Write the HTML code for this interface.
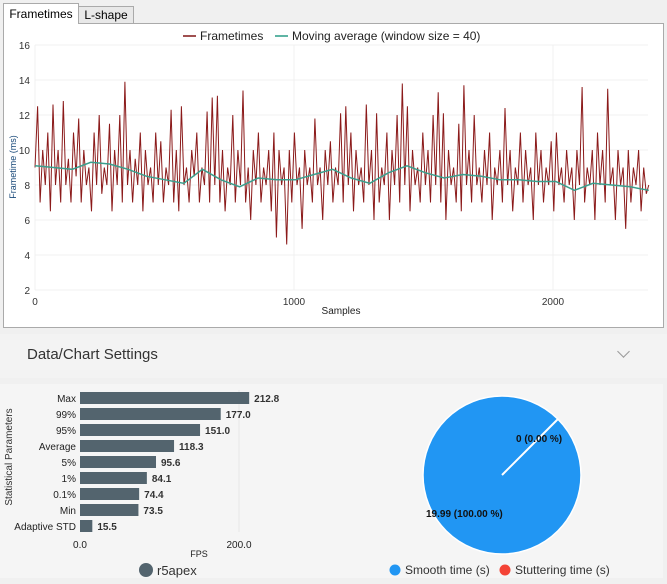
<!DOCTYPE html>
<html><head><meta charset="utf-8"><style>
body{margin:0;width:667px;height:584px;background:#f0f0f0;font-family:"Liberation Sans",sans-serif;overflow:hidden;position:relative}
.abs{position:absolute}
</style></head><body>
<div class="abs" style="left:3px;top:3px;width:74px;height:20px;background:#fff;border:1px solid #aaa;border-bottom:none;font-size:12px;line-height:20px;text-align:center;white-space:nowrap;z-index:2">Frametimes</div>
<div class="abs" style="left:78px;top:6px;width:54px;height:17px;background:#e8e8e8;border:1px solid #aaa;font-size:12px;line-height:17px;text-align:center;white-space:nowrap">L-shape</div>
<div class="abs" style="left:3px;top:23px;width:659px;height:303px;background:#fff;border:1px solid #aaa"></div>
<svg class="abs" style="left:0;top:0" width="667" height="584" id="main"></svg>
<div class="abs" style="left:0;top:334px;width:667px;height:44px;background:#f3f3f3"></div>
<div class="abs" style="left:27px;top:346px;font-size:15px;color:#333">Data/Chart Settings</div>
<div class="abs" style="left:619px;top:347px;width:8px;height:8px;border-right:1.5px solid #999;border-bottom:1.5px solid #999;transform:rotate(45deg)"></div>
<div class="abs" style="left:0;top:384px;width:663px;height:194px;background:#f5f5f5"></div>
<svg class="abs" style="left:0;top:0" width="667" height="584" id="bottom"></svg>
<script>
const NS="http://www.w3.org/2000/svg";
function mk(p,t,a){const e=document.createElementNS(NS,t);for(const k in a)e.setAttribute(k,a[k]);p.appendChild(e);return e;}
const frametimes=[9,12.5,7,10,8,11,6.5,12.6,8,10,7,12.8,8,9.5,7,11,8.5,11.8,7,10,8,9,6.5,11,8,12,7.5,9,8,11.5,6.5,10,8,12,7,13.9,8,10,7,9.5,8,11,6.5,10,8,9,7,11,8,10.5,7,9,8,12.3,7,10,6.5,12.5,8,9,7,10,8.5,11,7,9,8,12.2,7,13,8,13.1,7,10,6.5,9,8,12,7,10,8,13.4,7,9,6,10,8,11,7,9,8,10,6.5,11,5,10,8,9,4.6,10,7,11,8,9,5.5,10,8,9,7,11.8,8,9,6,10,8,10.5,7,9,8,12.1,7,12.5,8,11,6.5,10,8,9,7,12.6,8,10,6,12.1,7,9,8,11,6,10,8,12,7,13.8,8,12.5,6.5,10,8,9,7,11,8,10,7,12,8,13.3,7,12.1,6,10,8,9,7,11.5,6.5,13.7,8,10,7,12,8,9,7,10,8,11,6,9,8,10,7,12.4,8,10,6.5,9,8,11,7,10,8,9,6,11,8,10,7,9,8,10.5,6.5,11,8,9,7,10,8,9,6,10,8,13.6,7,9,8,10,6,11,8,10,7,13.5,8,9,6,10,8,9,5.5,10,7,9,8,10,6.5,9,7.5,8];
const movingAvg=[9.1,9,8.9,9.3,9.2,8.9,8.5,8.3,8.1,8.9,8.3,7.9,8.4,8.3,8.3,8.6,8.9,8.4,8.1,8.7,9.1,8.7,8.4,8.6,8.5,8.3,8.3,8.2,8.2,7.7,8.1,8,7.9,7.7];
const xTicks=[0,1000,2000];const yTicks=[2,4,6,8,10,12,14,16];
const nSamples=2370;
const sx=v=>35+v*0.259, sy=v=>290-(v-2)*17.5;
const g=document.getElementById('main');
yTicks.forEach(t=>{mk(g,'line',{x1:35,x2:648,y1:sy(t),y2:sy(t),stroke:'#f0f0f0'});const tx=mk(g,'text',{x:30,y:sy(t)+4,'font-size':10,'text-anchor':'end',fill:'#333'});tx.textContent=t;});
xTicks.forEach(t=>{mk(g,'line',{x1:sx(t),x2:sx(t),y1:45,y2:290,stroke:'#f0f0f0'});const tx=mk(g,'text',{x:sx(t),y:305,'font-size':10,'text-anchor':'middle',fill:'#333'});tx.textContent=t;});
let p1=frametimes.map((v,i)=>sx(i*nSamples/(frametimes.length-1)).toFixed(1)+','+sy(v).toFixed(1)).join(' ');
const ft=mk(g,'polyline',{points:p1,fill:'none',stroke:'#8b1a1a','stroke-width':1});


let p2=movingAvg.map((v,i)=>sx(i*nSamples/(movingAvg.length-1)).toFixed(1)+','+sy(v).toFixed(1)).join(' ');
const ma=mk(g,'polyline',{points:p2,fill:'none',stroke:'#3a9e8c','stroke-width':1.5});


const xt=mk(g,'text',{x:341,y:314,'font-size':10,'text-anchor':'middle',fill:'#222'});xt.textContent='Samples';


const yt=mk(g,'text',{x:0,y:0,'font-size':9,'text-anchor':'middle',fill:'#1a4a7a',transform:'translate(16,167) rotate(-90)'});yt.textContent='Frametime (ms)';


mk(g,'line',{x1:183,x2:196,y1:36,y2:36,stroke:'#a05050','stroke-width':2});
const l1=mk(g,'text',{x:200,y:40,'font-size':12,fill:'#222'});l1.textContent='Frametimes';


mk(g,'line',{x1:275,x2:288,y1:36,y2:36,stroke:'#5fb5a5','stroke-width':2});
const l2=mk(g,'text',{x:292,y:40,'font-size':12,fill:'#222'});l2.textContent='Moving average (window size = 40)';



const statLabels=['Max','99%','95%','Average','5%','1%','0.1%','Min','Adaptive STD'];
const statValues=[212.8,177.0,151.0,118.3,95.6,84.1,74.4,73.5,15.5];
const b=document.getElementById('bottom');
const bx=v=>80+v*0.795;
mk(b,'line',{x1:bx(200),x2:bx(200),y1:390,y2:532,stroke:'#e6e6e6'});
statLabels.forEach((l,i)=>{const y=392+i*16;
 const r=mk(b,'rect',{x:80,y:y,width:bx(statValues[i])-80,height:12,fill:'#53646e'});
 
 
 const t=mk(b,'text',{x:76,y:y+10,'font-size':10,'text-anchor':'end',fill:'#222'});t.textContent=l;
 
 
 const v=mk(b,'text',{x:bx(statValues[i])+5,y:y+10,'font-size':10,'font-weight':'bold',fill:'#333'});v.textContent=statValues[i].toFixed(1);
 
 });
[0,200].forEach(t=>{const tx=mk(b,'text',{x:bx(t),y:548,'font-size':10,'text-anchor':'middle',fill:'#222'});tx.textContent=t.toFixed(1);
 
 });
const fps=mk(b,'text',{x:199,y:557,'font-size':9,'text-anchor':'middle',fill:'#222'});fps.textContent='FPS';


const sp=mk(b,'text',{x:0,y:0,'font-size':10,'text-anchor':'middle',fill:'#333',transform:'translate(12,457) rotate(-90)'});sp.textContent='Statistical Parameters';


mk(b,'circle',{cx:146,cy:570,r:7,fill:'#53646e'});
const rl=mk(b,'text',{x:157,y:575,'font-size':13,fill:'#333'});rl.textContent='r5apex';



const pieLabels=['Smooth time (s)','Stuttering time (s)'];
const pieValues=[19.99,0];
const pieColors=['#2196f3','#f44336'];
const cx=502,cy=475,R=79;
const total=pieValues.reduce((a,c)=>a+c,0);
const pc=mk(b,'circle',{cx:cx,cy:cy,r:R,fill:pieColors[0],stroke:'#fff','stroke-width':1.5});


const a0=Math.PI/4;
const sep=mk(b,'line',{x1:cx,y1:cy,x2:cx+R*Math.sin(a0),y2:cy-R*Math.cos(a0),stroke:'#fff','stroke-width':2});


const t1=mk(b,'text',{x:516,y:442,'font-size':10,'font-weight':'bold',fill:'#111'});t1.textContent=pieValues[1]+' ('+(pieValues[1]/total*100).toFixed(2)+' %)';


const t2=mk(b,'text',{x:426,y:517,'font-size':10,'font-weight':'bold',fill:'#111'});t2.textContent=pieValues[0]+' ('+(pieValues[0]/total*100).toFixed(2)+' %)';


[[395,0],[505,1]].forEach(([x,i])=>{mk(b,'circle',{cx:x,cy:570,r:5.5,fill:pieColors[i]});
 const t=mk(b,'text',{x:x+10,y:574,'font-size':12,fill:'#333'});t.textContent=pieLabels[i];
 
 });
</script>
</body></html>
